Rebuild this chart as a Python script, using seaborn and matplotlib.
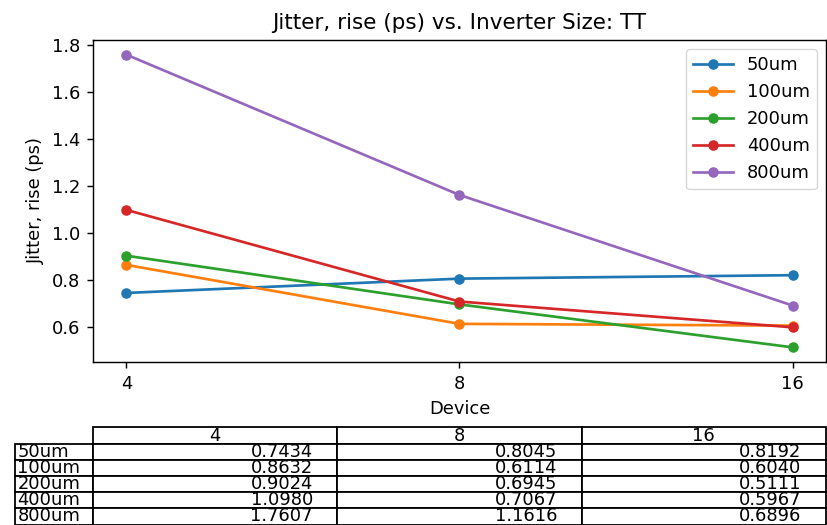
import matplotlib
matplotlib.use("Agg")
import matplotlib.pyplot as plt
from matplotlib.table import Table
import seaborn as sns
import pandas as pd

devices = ["4", "8", "16"]
sizes = ["50um", "100um", "200um", "400um", "800um"]
jitter_50 = [0.7434, 0.8045, 0.8192]
jitter_100 = [0.8632, 0.6114, 0.6040]
jitter_200 = [0.9024, 0.6945, 0.5111]
jitter_400 = [1.0980, 0.7067, 0.5967]
jitter_800 = [1.7607, 1.1616, 0.6896]
series = [jitter_50, jitter_100, jitter_200, jitter_400, jitter_800]

rows = []
for s, vals in zip(sizes, series):
    for d, v in zip(devices, vals):
        rows.append({"Device": d, "Size": s, "Jitter": v})
df = pd.DataFrame(rows)

k = 1.29
plt.rcParams["font.family"] = ["DejaVu Sans"]
plt.rcParams["font.size"] = 10 * k
plt.rcParams["axes.linewidth"] = 0.8 * k
for a in ("xtick", "ytick"):
    plt.rcParams[f"{a}.major.size"] = 3.5 * k
    plt.rcParams[f"{a}.major.width"] = 0.8 * k
    plt.rcParams[f"{a}.major.pad"] = 3.5 * k

fig = plt.figure(figsize=(8.28, 5.25), dpi=100)
ax = fig.add_axes([93 / 828, 1 - 362 / 525, 733 / 828, 322 / 525])

sns.lineplot(data=df, x="Device", y="Jitter", hue="Size", hue_order=sizes,
             palette=sns.color_palette("tab10", 5), marker="o", markersize=7.6,
             markeredgewidth=0, linewidth=1.5 * k, sort=False, ax=ax, legend=True)

ax.set_title("Jitter, rise (ps) vs. Inverter Size: TT", fontsize=12 * k, pad=6 * k)
ax.set_ylabel("Jitter, rise (ps)", fontsize=10 * k, labelpad=4 * k)
ax.set_xlabel("Device", fontsize=10 * k, labelpad=4 * k)
ax.set_yticks([0.6, 0.8, 1.0, 1.2, 1.4, 1.6, 1.8])
ax.tick_params(labelsize=10 * k)

leg = ax.get_legend()
handles = leg.legend_handles
leg.remove()
ax.legend(handles, sizes, loc="upper right", fontsize=10 * k, handlelength=2.2)

cell_text = [[f"{v:.4f}" for v in vals] for vals in series]
rlw = 78 / 733
tbl = Table(ax, bbox=[0, -(524.5 - 362) / 322, 1, 97 / 322])
h = 1.0
for j, d in enumerate(devices):
    tbl.add_cell(0, j, width=1 / 3, height=h, text=d, loc="center")
for i, (s, texts) in enumerate(zip(sizes, cell_text), start=1):
    c = tbl.add_cell(i, -1, width=rlw, height=h, text=s, loc="left")
    c.PAD = 0.03
    for j, t in enumerate(texts):
        tbl.add_cell(i, j, width=1 / 3, height=h, text=t, loc="right")
tbl.auto_set_font_size(False)
tbl.set_fontsize(10 * k)
for cell in tbl.get_celld().values():
    cell.set_linewidth(k)
ax.add_table(tbl)

fig.savefig("out.png", dpi=100)
